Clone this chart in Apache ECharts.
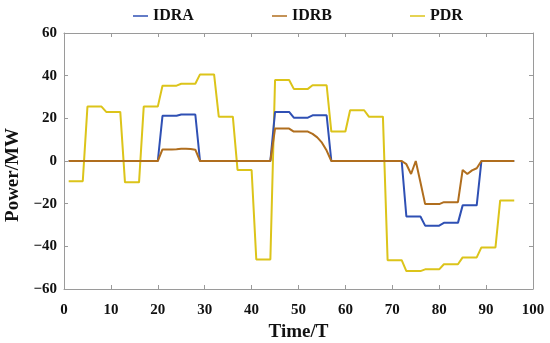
<!DOCTYPE html>
<html>
<head>
<meta charset="utf-8">
<script src="https://cdn.jsdelivr.net/npm/echarts@6/dist/echarts.min.js"></script>
<style>
html,body{margin:0;padding:0;background:#fff;}
#c{width:550px;height:343px;}
</style>
</head>
<body>
<div id="c"></div>
<script>
// Time steps 1..96
var timeSteps = [];
for (var i = 1; i <= 96; i++) timeSteps.push(i);

var xTicks = [0, 10, 20, 30, 40, 50, 60, 70, 80, 90, 100];
var yTicks = [-60, -40, -20, 0, 20, 40, 60];

var seriesNames = ['IDRA', 'IDRB', 'PDR'];

var idra = [
  0,0,0,0, 0,0,0,0, 0,0,0,0, 0,0,0,0, 0,0,0,0,
  21.2,21.2,21.2,21.2, 21.8,21.8,21.8,21.8,
  0,0,0,0, 0,0,0,0, 0,0,0,0, 0,0,0,0,
  23,23,23,23, 20.3,20.3,20.3,20.3, 21.4,21.4,21.4,21.4,
  0,0,0,0, 0,0,0,0, 0,0,0,0, 0,0,0,0,
  -26,-26,-26,-26, -30.3,-30.3,-30.3,-30.3, -29,-29,-29,-29, -20.8,-20.8,-20.8,-20.8,
  0,0,0,0, 0,0,0,0
];

var idrb = [
  0,0,0,0, 0,0,0,0, 0,0,0,0, 0,0,0,0, 0,0,0,0,
  5.4,5.4,5.4,5.5, 5.7,5.7,5.6,5.3,
  0,0,0,0, 0,0,0,0, 0,0,0,0, 0,0,0,0,
  15.2,15.2,15.2,15.2, 13.8,13.8,13.8,13.8, 12.7,11.1,8.6,4.9,
  0,0,0,0, 0,0,0,0, 0,0,0,0, 0,0,0,0,
  -1.5,-6.1,0,-10, -20.2,-20.2,-20.2,-20.2, -19.3,-19.3,-19.3,-19.3, -4.2,-6.1,-4.4,-3.4,
  0,0,0,0, 0,0,0,0
];

var pdr = [
  -9.5,-9.5,-9.5,-9.5, 25.5,25.5,25.5,25.5, 23,23,23,23, -10,-10,-10,-10,
  25.5,25.5,25.5,25.5, 35.3,35.3,35.3,35.3, 36.2,36.2,36.2,36.2, 40.6,40.6,40.6,40.6,
  20.8,20.8,20.8,20.8, -4.2,-4.2,-4.2,-4.2, -46.2,-46.2,-46.2,-46.2, 38,38,38,38,
  33.8,33.8,33.8,33.8, 35.5,35.5,35.5,35.5, 13.8,13.8,13.8,13.8, 23.8,23.8,23.8,23.8,
  20.8,20.8,20.8,20.8, -46.5,-46.5,-46.5,-46.5, -51.6,-51.6,-51.6,-51.6, -50.8,-50.8,-50.8,-50.8,
  -48.4,-48.4,-48.4,-48.4, -45.2,-45.2,-45.2,-45.2, -40.5,-40.5,-40.5,-40.5, -18.5,-18.5,-18.5,-18.5
];

var colors = ['#2F50B4', '#B06E1E', '#DCC41A'];

function pairs(vals) {
  return timeSteps.map(function (t, i) { return [t, vals[i]]; });
}

var font = 'Liberation Serif, Times New Roman, serif';
var axisCol = '#9a9a9a';

var chart = echarts.init(document.getElementById('c'), null, {renderer: 'canvas'});

function legendAt(name, left) {
  return {
    data: [name], left: left, top: 3, icon: 'rect', itemWidth: 15, itemHeight: 1.5, itemGap: 5,
    textStyle: {fontFamily: font, fontWeight: 'bold', fontSize: 16, color: '#111'}
  };
}

var lineAxis = {show: true, onZero: false, lineStyle: {color: axisCol, width: 1}};
var tick = {show: true, inside: true, length: 4, lineStyle: {color: axisCol}};

var option = {
  animation: false,
  backgroundColor: '#fff',
  color: colors,
  legend: [legendAt('IDRA', 128), legendAt('IDRB', 267), legendAt('PDR', 405)],
  grid: {left: 64, right: 17, top: 33, bottom: 54, containLabel: false, outerBoundsMode: 'none'},
  xAxis: [{
    type: 'value', min: xTicks[0], max: xTicks[xTicks.length - 1], interval: 10,
    name: 'Time/T', nameLocation: 'middle', nameGap: 28,
    nameTextStyle: {fontFamily: font, fontWeight: 'bold', fontSize: 19, color: '#111'},
    axisLine: lineAxis, axisTick: tick,
    axisLabel: {fontFamily: font, fontWeight: 'bold', fontSize: 15, color: '#111', margin: 14},
    splitLine: {show: false}
  }, {
    type: 'value', position: 'top', min: xTicks[0], max: xTicks[xTicks.length - 1], interval: 10,
    axisLine: lineAxis, axisTick: tick,
    axisLabel: {show: false}, splitLine: {show: false}
  }],
  yAxis: [{
    type: 'value', min: yTicks[0], max: yTicks[yTicks.length - 1], interval: 20,
    name: 'Power/MW', nameLocation: 'middle', nameGap: 30,
    nameTextStyle: {fontFamily: font, fontWeight: 'bold', fontSize: 19, color: '#111', padding: [8, 28, 0, 0]},
    axisLine: lineAxis, axisTick: tick,
    axisLabel: {fontFamily: font, fontWeight: 'bold', fontSize: 15, color: '#111', margin: 7,
      formatter: function (v) { return v < 0 ? '\u2212' + Math.abs(v) : String(v); }},
    splitLine: {show: false}
  }, {
    type: 'value', position: 'right', min: yTicks[0], max: yTicks[yTicks.length - 1], interval: 20,
    axisLine: lineAxis, axisTick: tick,
    axisLabel: {show: false}, splitLine: {show: false}
  }],
  series: [
    {name: seriesNames[0], type: 'line', data: pairs(idra), symbol: 'none', lineStyle: {width: 2, color: colors[0]}, itemStyle: {color: colors[0]}, z: 2},
    {name: seriesNames[1], type: 'line', data: pairs(idrb), symbol: 'none', lineStyle: {width: 2, color: colors[1]}, itemStyle: {color: colors[1]}, z: 3},
    {name: seriesNames[2], type: 'line', data: pairs(pdr), symbol: 'none', lineStyle: {width: 2, color: colors[2]}, itemStyle: {color: colors[2]}, z: 1}
  ]
};
chart.setOption(option);
</script>
</body>
</html>
